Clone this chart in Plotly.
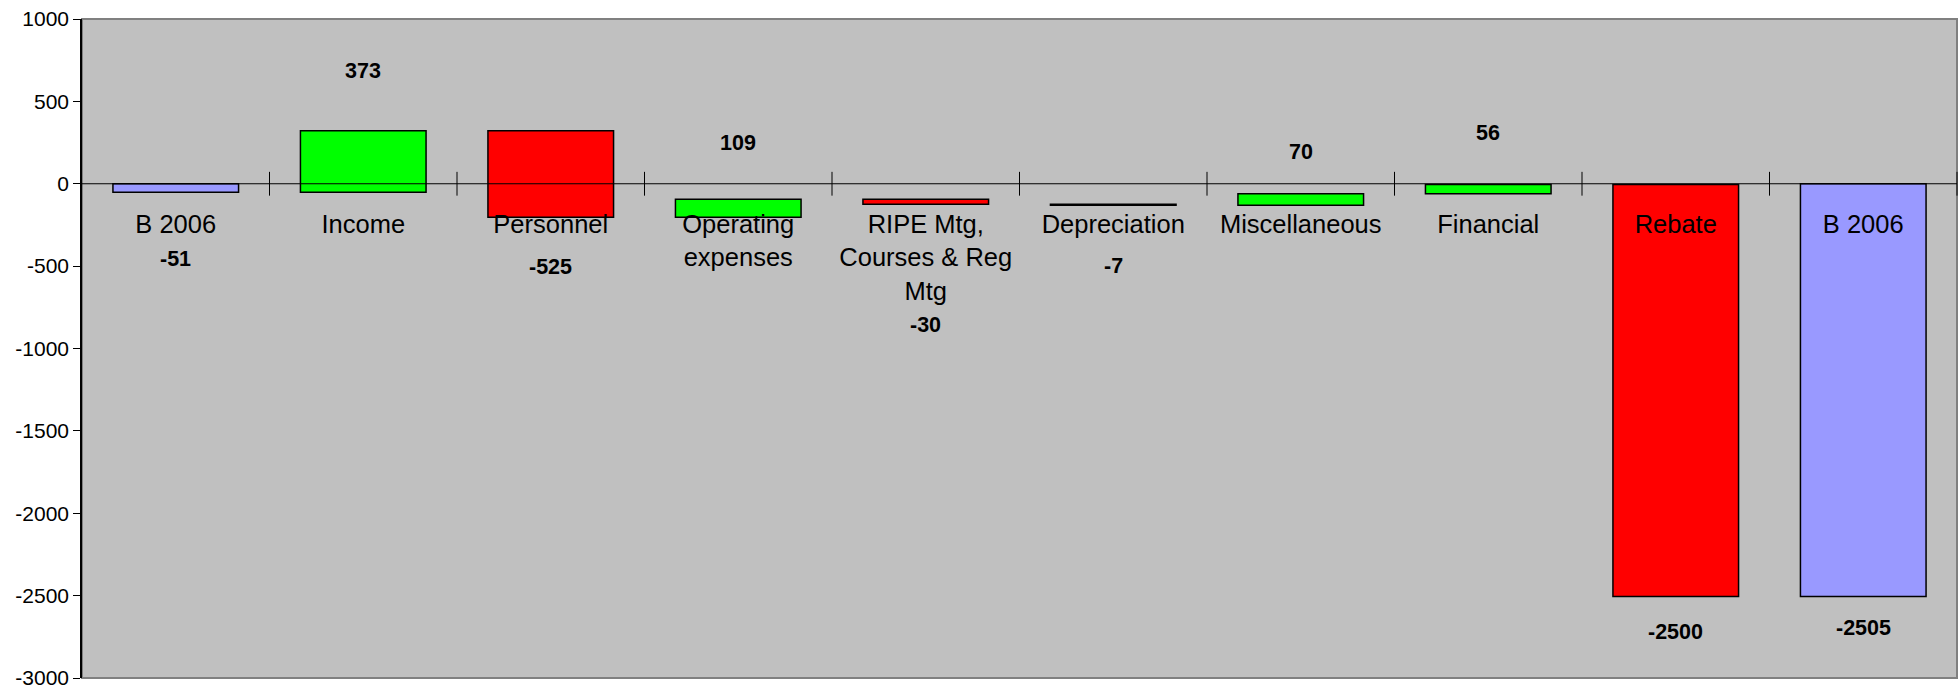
import plotly.graph_objects as go

# Budget bridge: starting balance, changes per item, resulting balance
categories = [
    "B 2006",
    "Income",
    "Personnel",
    "Operating<br>expenses",
    "RIPE Mtg,<br>Courses & Reg<br>Mtg",
    "Depreciation",
    "Miscellaneous",
    "Financial",
    "Rebate",
    "B 2006",
]
changes = [-51, 373, -525, 109, -30, -7, 70, 56, -2500, -2505]
measures = ["absolute"] + ["relative"] * 8 + ["total"]

y_ticks = [1000, 500, 0, -500, -1000, -1500, -2000, -2500, -3000]

# vertical offsets (px) of the value labels from the bar ends
label_shift = [-67, 60, -50, 56, -121, -61, 42, 52, -36, -32]

FONT = "Liberation Sans, Arial, sans-serif"
x_pos = list(range(len(categories)))

fig = go.Figure()
fig.add_trace(go.Waterfall(
    x=x_pos,
    y=changes,
    measure=measures,
    increasing=dict(marker=dict(color="#00FF00", line=dict(color="black", width=1.5))),
    decreasing=dict(marker=dict(color="#FF0000", line=dict(color="black", width=1.5))),
    totals=dict(marker=dict(color="#9999FF", line=dict(color="black", width=1.5))),
    connector=dict(visible=False),
    textinfo="none",
    hoverinfo="skip",
    showlegend=False,
))

# tick marks crossing the category axis at the category boundaries
boundaries = [i + 0.5 for i in x_pos]
fig.add_trace(go.Scatter(
    x=boundaries,
    y=[0] * len(boundaries),
    mode="markers",
    marker=dict(symbol="line-ns-open", size=17, color="black",
                line=dict(color="black", width=1)),
    hoverinfo="skip",
    showlegend=False,
    cliponaxis=False,
))

# value labels placed relative to the end of each bar
running = 0
for i, (m, v) in enumerate(zip(measures, changes)):
    if m == "absolute":
        running = v
    elif m == "relative":
        running += v
    end = running
    fig.add_annotation(
        x=i, y=end, text=str(v), showarrow=False,
        yshift=label_shift[i], yanchor="middle",
        font=dict(family=FONT, size=21.5, color="black", weight="bold"),
    )

fig.update_layout(
    width=1959,
    height=687,
    margin=dict(l=82, r=2, t=19, b=9, autoexpand=False),
    paper_bgcolor="white",
    plot_bgcolor="#C0C0C0",
    waterfallgap=0.33,
    showlegend=False,
    xaxis=dict(
        range=[-0.5, len(categories) - 0.5],
        tickvals=x_pos,
        ticktext=categories,
        ticks="",
        anchor="free",
        position=0.75,
        showline=False,
        showgrid=False,
        zeroline=False,
        automargin=False,
        ticklabelstandoff=23,
        tickfont=dict(family=FONT, size=25.5, color="black"),
    ),
    yaxis=dict(
        range=[-3000, 1000],
        tickvals=y_ticks,
        ticktext=[str(t) for t in y_ticks],
        ticks="outside",
        ticklen=7,
        tickcolor="black",
        showline=True,
        linecolor="black",
        linewidth=1.5,
        showgrid=False,
        zeroline=False,
        automargin=False,
        ticklabeloverflow="allow",
        tickfont=dict(family=FONT, size=21, color="black"),
    ),
    shapes=[
        # plot-area frame
        dict(type="rect", xref="paper", yref="paper", x0=0, y0=0, x1=1, y1=1,
             line=dict(color="#808080", width=2), layer="below"),
        # category axis line, drawn over the bars
        dict(type="line", xref="paper", yref="y", x0=0, x1=1, y0=0, y1=0,
             line=dict(color="black", width=1.2), layer="above"),
    ],
)

fig.write_html("out.html")
